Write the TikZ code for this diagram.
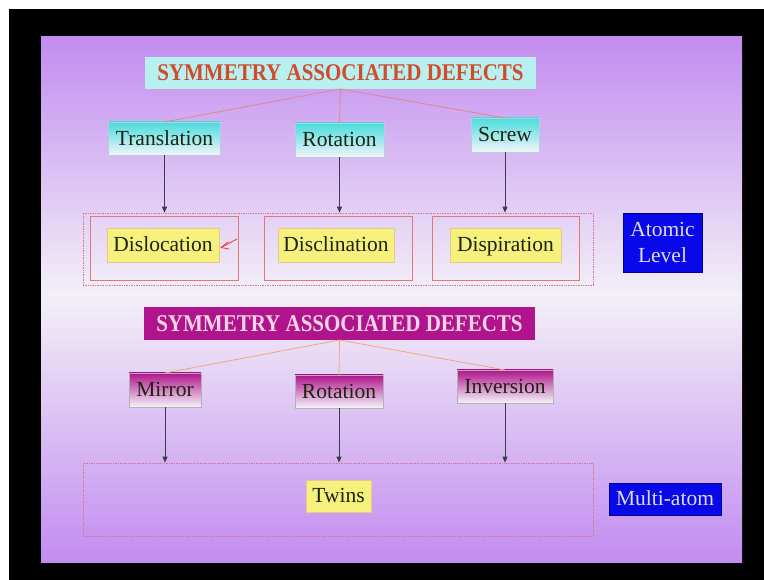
\documentclass[tikz,border=0pt]{standalone}
\usepackage{fontspec}
\setmainfont{Liberation Serif}
\newfontfamily\headfont[FakeStretch=0.875]{Liberation Serif}
\usetikzlibrary{arrows.meta}

\definecolor{slidepurple}{HTML}{C28CF0}
\definecolor{slidelight}{HTML}{F3F0F7}
\definecolor{titlecyan}{HTML}{B8F0F0}
\definecolor{titlered}{HTML}{D04C2C}
\definecolor{magentabox}{HTML}{B0148C}
\definecolor{pinktext}{HTML}{F8D4E4}
\definecolor{labelcyan}{HTML}{48DCDC}
\definecolor{labelwhite}{HTML}{F4F4FA}
\definecolor{yellowbox}{HTML}{F6F07C}
\definecolor{yellowline}{HTML}{E8C890}
\definecolor{framered}{HTML}{E07878}
\definecolor{dotred}{HTML}{D07898}
\definecolor{linksalmon}{HTML}{E08888}
\definecolor{linkorange}{HTML}{F0A878}
\definecolor{arrowgray}{HTML}{3C3C50}
\definecolor{levelblue}{HTML}{0808E8}
\definecolor{levelgray}{HTML}{DCDCEE}
\definecolor{labeltext}{HTML}{1C2412}

\tikzset{
  txtbase/.style={font=\fontsize{21.5}{26}\selectfont, inner sep=0pt, outer sep=0pt,
    align=center},
  txt/.style={txtbase, text height=15pt, text depth=1.5pt},
  titlebox/.style={txtbase, font=\headfont\bfseries\fontsize{24}{28}\selectfont,
    text height=16.5pt, text depth=0.5pt},
  cyanlabel/.style={txt, draw=gray!60!cyan!50, line width=0.6pt,
    top color=labelcyan, bottom color=labelwhite, text=labeltext},
  magentalabel/.style={txt, draw=gray!60, line width=0.6pt,
    top color=magentabox, bottom color=labelwhite, text=labeltext},
  yellowlabel/.style={txt, draw=yellowline, line width=0.6pt, fill=yellowbox, text=labeltext},
  redframe/.style={draw=framered, line width=0.8pt, inner sep=0pt},
  dotframe/.style={draw=dotred, densely dotted, line width=0.7pt, inner sep=0pt},
  link/.style={draw=linksalmon, line width=0.8pt},
  link2/.style={draw=linkorange, line width=0.8pt},
  down/.style={draw=arrowgray, line width=0.9pt, -{Triangle[length=6pt,width=5pt]}},
  levelbox/.style={fill=levelblue, draw=blue!60!black, line width=0.6pt, text=levelgray},
}

\begin{document}
\begin{tikzpicture}[x=1pt,y=-1pt]
  % page frame and slide background
  \useasboundingbox (0,0) rectangle (764,580);
  \fill[white] (0,0) rectangle (764,580);
  \fill[black] (9,9) rectangle (764,580);
  \shade[top color=slidepurple, bottom color=slidelight] (41,37) rectangle (742,295);
  \shade[top color=slidelight, bottom color=slidepurple] (41,295) rectangle (742,562);

  % ---------- upper tree: atomic level ----------
  \node[titlebox, fill=titlecyan, text=titlered, minimum width=391pt, minimum height=32pt]
    (title1) at (340.5,73) {SYMMETRY ASSOCIATED DEFECTS};

  \node[cyanlabel, minimum width=112pt, minimum height=33pt] (trans) at (164.5,138.5) {Translation};
  \node[cyanlabel, minimum width=89pt, minimum height=34pt] (rot1) at (339.5,140) {Rotation};
  \node[cyanlabel, minimum width=68pt, minimum height=34pt] (screw) at (505,135) {Screw};

  \draw[link] (title1.south) -- (trans.north);
  \draw[link] (title1.south) -- (rot1.north);
  \draw[link] (title1.south) -- (screw.north);

  \node[dotframe, minimum width=510pt, minimum height=72pt] (outer1) at (338,249) {};
  \node[redframe, minimum width=148pt, minimum height=64pt] (f1) at (164,248) {};
  \node[redframe, minimum width=148pt, minimum height=64pt] (f2) at (338,248) {};
  \node[redframe, minimum width=147pt, minimum height=64pt] (f3) at (505.5,248) {};

  \node[yellowlabel, minimum width=112pt, minimum height=34pt] (disloc) at (163,245) {Dislocation};
  \node[yellowlabel, minimum width=116pt, minimum height=34pt] (discl) at (336,245) {Disclination};
  \node[yellowlabel, minimum width=111pt, minimum height=34pt] (dispir) at (505.5,245) {Dispiration};

  \coordinate (a1) at (trans.south |- outer1.north);
  \coordinate (a2) at (rot1.south |- outer1.north);
  \coordinate (a3) at (screw.south |- outer1.north);
  \draw[down] (trans.south) -- (a1);
  \draw[down] (rot1.south) -- (a2);
  \draw[down] (screw.south) -- (a3);

  % pen stroke beside Dislocation
  \draw[red!80, line width=0.8pt, line cap=round] (237,239) -- (222,247);
  \draw[red!80, line width=0.8pt, line cap=round, line join=round]
    (228,242) -- (221,247.5) -- (229,249);

  \node[txtbase, levelbox, minimum width=79pt, minimum height=59pt] (atomic) at (662.5,242.5)
    {Atomic\\Level};

  % ---------- lower tree: multi-atom ----------
  \node[titlebox, fill=magentabox, text=pinktext, minimum width=391pt, minimum height=33pt]
    (title2) at (339.5,323.5) {SYMMETRY ASSOCIATED DEFECTS};

  \node[magentalabel, minimum width=72pt, minimum height=34pt] (mirror) at (165,390) {Mirror};
  \node[magentalabel, minimum width=88pt, minimum height=33pt] (rot2) at (339,391.5) {Rotation};
  \node[magentalabel, minimum width=96pt, minimum height=33pt] (inv) at (505,386.5) {Inversion};

  \draw[link2] (title2.south) -- (mirror.north);
  \draw[link2] (title2.south) -- (rot2.north);
  \draw[link2] (title2.south) -- (inv.north);

  \node[dotframe, minimum width=510pt, minimum height=73pt] (outer2) at (338,499.5) {};
  \node[yellowlabel, minimum width=65pt, minimum height=32pt] (twins) at (338.5,496) {Twins};

  \coordinate (b1) at (mirror.south |- outer2.north);
  \coordinate (b2) at (rot2.south |- outer2.north);
  \coordinate (b3) at (inv.south |- outer2.north);
  \draw[down] (mirror.south) -- (b1);
  \draw[down] (rot2.south) -- (b2);
  \draw[down] (inv.south) -- (b3);

  \node[txt, levelbox, minimum width=112pt, minimum height=32pt] (multi) at (665,499) {Multi-atom};
\end{tikzpicture}
\end{document}
